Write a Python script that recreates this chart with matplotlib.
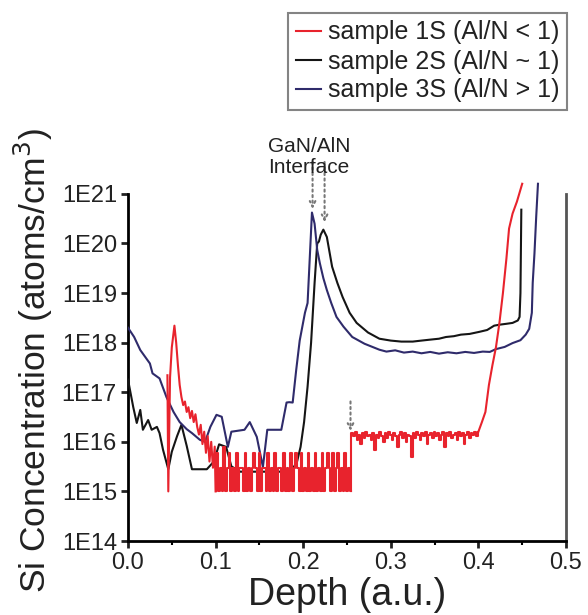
import numpy as np
import matplotlib
matplotlib.use("Agg")
import matplotlib.pyplot as plt
from matplotlib.ticker import FixedLocator, FuncFormatter, LogLocator, MultipleLocator

plt.rcParams['font.family'] = ['Liberation Sans', 'DejaVu Sans']

# sample 3S (Al/N > 1)
depth_3s = [0.000, 0.007, 0.014, 0.025, 0.028, 0.036, 0.044, 0.052, 0.059, 0.067,
            0.073, 0.082, 0.088, 0.094, 0.101, 0.107, 0.114, 0.118, 0.133, 0.139,
            0.147, 0.154, 0.159, 0.175, 0.181, 0.184, 0.188, 0.192, 0.196, 0.202,
            0.205, 0.210, 0.213, 0.216, 0.219, 0.223, 0.227, 0.232, 0.238, 0.246,
            0.256, 0.270, 0.287, 0.295, 0.305, 0.315, 0.325, 0.335, 0.345, 0.355,
            0.365, 0.375, 0.385, 0.395, 0.405, 0.413, 0.420, 0.430, 0.439, 0.448,
            0.454, 0.458, 0.461, 0.462, 0.464, 0.466, 0.468]
conc_3s = [2.0e18, 1.3e18, 7.1e17, 3.8e17, 2.4e17, 1.9e17, 7.9e16, 4.0e16, 2.5e16, 1.8e16,
           1.5e16, 1.1e16, 1.0e16, 2.0e16, 3.5e16, 3.2e16, 7.9e15, 1.6e16, 1.75e16, 2.5e16,
           1.26e16, 3.1e15, 1.75e16, 1.75e16, 6.2e16, 6.3e16, 6.2e16, 2.8e17, 1.1e18, 4.0e18,
           6.3e18, 4.2e20, 2.5e20, 7.4e19, 4.0e19, 2.0e19, 1.15e19, 6.3e18, 3.3e18, 2.1e18,
           1.3e18, 9.5e17, 7.2e17, 6.6e17, 7.0e17, 6.3e17, 6.6e17, 6.1e17, 6.5e17, 6.0e17,
           6.4e17, 6.1e17, 6.5e17, 6.2e17, 6.6e17, 6.5e17, 7.4e17, 8.2e17, 9.8e17, 1.12e18,
           1.45e18, 1.9e18, 4.0e18, 1.6e19, 6.3e19, 3.5e20, 1.6e21]

# sample 2S (Al/N ~ 1)
depth_2s = [0.000, 0.006, 0.010, 0.014, 0.017, 0.023, 0.027, 0.033, 0.036, 0.040,
            0.046, 0.050, 0.056, 0.061, 0.067, 0.073, 0.082, 0.090, 0.098, 0.104,
            0.112, 0.118, 0.128, 0.150, 0.170, 0.186, 0.193, 0.197, 0.201, 0.205,
            0.209, 0.213, 0.216, 0.218, 0.220, 0.223, 0.227, 0.233, 0.239, 0.245,
            0.253, 0.261, 0.274, 0.287, 0.300, 0.312, 0.325, 0.335, 0.345, 0.355,
            0.363, 0.372, 0.380, 0.390, 0.401, 0.410, 0.418, 0.424, 0.432, 0.439,
            0.445, 0.447, 0.448, 0.449]
conc_2s = [1.8e17, 5.0e16, 2.4e16, 4.4e16, 1.75e16, 2.75e16, 1.75e16, 2.0e16, 1.5e16, 6.9e15,
           2.8e15, 6.3e15, 1.3e16, 2.2e16, 8.3e15, 2.8e15, 2.8e15, 2.8e15, 4.0e15, 8.9e15,
           7.9e15, 3.2e15, 2.5e15, 2.5e15, 2.5e15, 2.5e15, 4.0e15, 7.9e15, 2.5e16, 1.3e17,
           1.0e18, 1.6e19, 1.0e20, 1.1e20, 1.5e20, 1.9e20, 1.35e20, 3.4e19, 1.6e19, 8.3e18,
           4.0e18, 2.5e18, 1.6e18, 1.2e18, 1.1e18, 1.05e18, 1.05e18, 1.1e18, 1.15e18, 1.2e18,
           1.3e18, 1.35e18, 1.45e18, 1.5e18, 1.65e18, 1.8e18, 2.2e18, 2.3e18, 2.4e18, 2.5e18,
           2.8e18, 3.3e18, 1.0e19, 4.8e20]

# sample 1S (Al/N < 1): peak near the surface
depth_1s_a = [0.045, 0.046, 0.048, 0.050, 0.053, 0.055, 0.057, 0.059, 0.061, 0.063,
              0.065, 0.067, 0.069, 0.071, 0.073, 0.075, 0.077, 0.079, 0.081, 0.083,
              0.085, 0.087, 0.089, 0.091, 0.093, 0.095, 0.097, 0.099, 0.100]
conc_1s_a = [2.2e17, 1.0e15, 2.0e17, 8.0e17, 2.2e18, 1.0e18, 3.5e17, 1.4e17, 8.0e16, 5.5e16,
             6.5e16, 4.0e16, 5.0e16, 3.0e16, 4.2e16, 2.5e16, 3.6e16, 2.0e16, 1.4e16, 2.2e16,
             9.0e15, 1.6e16, 6.0e15, 1.3e16, 4.0e15, 1.0e16, 3.0e15, 8.0e15, 1.0e15]

# sample 1S: noise floor in the GaN layer (one value per 0.002 depth step)
depth_1s_b = np.arange(0.100, 0.2545, 0.002)
conc_1s_b = [1e15, 6e15, 1e15, 3e15, 1e15, 8e15, 1e15, 3e15, 6e15, 1e15,
             3e15, 1e15, 6e15, 1e15, 3e15, 3e15, 1e15, 6e15, 1e15, 3e15,
             1e15, 3e15, 6e15, 3e15, 1e15, 6e15, 1e15, 3e15, 3e15, 1e15,
             6e15, 1e15, 3e15, 1e15, 6e15, 1e15, 3e15, 3e15, 1e15, 6e15,
             1e15, 3e15, 1e15, 6e15, 1e15, 3e15, 6e15, 3e15, 1e15, 6e15,
             1e15, 3e15, 1e15, 6e15, 1e15, 3e15, 1e15, 6e15, 1e15, 3e15,
             1e15, 6e15, 1e15, 3e15, 6e15, 3e15, 1e15, 6e15, 1e15, 3e15,
             6e15, 1e15, 3e15, 1e15, 6e15, 1e15, 3e15, 1e15]

# sample 1S: AlN layer
depth_1s_c = np.arange(0.254, 0.4005, 0.002)
conc_1s_c = [1e15, 1.5e16, 1.3e16, 1.6e16, 1.1e16, 1.4e16, 9e15, 1.5e16, 1.2e16, 1.6e16,
             1.3e16, 1.4e16, 1.1e16, 1.5e16, 7e15, 1.4e16, 1.2e16, 1.6e16, 1.3e16, 1.0e16,
             1.5e16, 1.2e16, 1.6e16, 1.4e16, 1.1e16, 1.5e16, 1.3e16, 8e15, 1.4e16, 1.6e16,
             1.2e16, 1.5e16, 1.0e16, 1.4e16, 1.3e16, 5e15, 1.5e16, 1.2e16, 1.6e16, 1.4e16,
             1.1e16, 1.5e16, 1.3e16, 1.6e16, 9e15, 1.4e16, 1.5e16, 1.2e16, 1.6e16, 1.3e16,
             1.5e16, 1.1e16, 1.4e16, 1.6e16, 8e15, 1.5e16, 1.3e16, 1.6e16, 1.2e16, 1.4e16,
             1.5e16, 1.1e16, 1.6e16, 1.3e16, 1.5e16, 9e15, 1.4e16, 1.6e16, 1.2e16, 1.5e16,
             1.4e16, 1.6e16, 1.3e16, 1.6e16]
# sample 1S: rise into the substrate
depth_1s_d = [0.400, 0.404, 0.408, 0.412, 0.416, 0.420, 0.424, 0.428, 0.432, 0.435,
              0.439, 0.444, 0.450]
conc_1s_d = [1.6e16, 2.5e16, 4.0e16, 1.4e17, 3.5e17, 8.0e17, 2.5e18, 1.0e19, 5.0e19, 2.0e20,
             4.0e20, 7.0e20, 1.6e21]

decades = [14, 15, 16, 17, 18, 19, 20, 21]
x_ticks = [0.0, 0.1, 0.2, 0.3, 0.4, 0.5]

red = '#e8232d'
black = '#151515'
navy = '#2f2b6b'
text_col = '#222222'

fig = plt.figure(figsize=(5.88, 6.15), dpi=100)
ax = fig.add_axes([128 / 588, 74 / 615, 438 / 588, 362 / 615])

ax.plot(depth_1s_a, conc_1s_a, color=red, lw=1.5, label='sample 1S (Al/N < 1)', zorder=4)
ax.plot(depth_1s_b, conc_1s_b, color=red, lw=1.5, drawstyle='steps-mid', zorder=4)
ax.plot(depth_1s_c, conc_1s_c, color=red, lw=1.5, drawstyle='steps-mid', zorder=4)
ax.plot(depth_1s_d, conc_1s_d, color=red, lw=1.5, zorder=4)
ax.plot(depth_2s, conc_2s, color=black, lw=1.5, label='sample 2S (Al/N ~ 1)', zorder=3)
ax.plot(depth_3s, conc_3s, color=navy, lw=1.5, label='sample 3S (Al/N > 1)', zorder=3)

ax.set_yscale('log')
ax.set_xlim(0, 0.5)
ax.set_ylim(1e14, 10 ** 21.3)

ax.spines['top'].set_visible(False)
ax.spines['left'].set_bounds(1e14, 1e21)
ax.spines['right'].set_bounds(1e14, 1e21)
ax.spines['left'].set_linewidth(2)
ax.spines['bottom'].set_linewidth(2)
ax.spines['right'].set_linewidth(2)
ax.spines['right'].set_color('#555555')

ax.yaxis.set_major_locator(FixedLocator([10.0 ** d for d in decades]))
ax.yaxis.set_major_formatter(FuncFormatter(lambda v, p: '1E%d' % round(np.log10(v))))
ax.yaxis.set_minor_locator(LogLocator(base=10, subs=np.arange(2, 10)))
ax.yaxis.set_minor_formatter(FuncFormatter(lambda v, p: ''))
ax.xaxis.set_major_locator(FixedLocator(x_ticks))
ax.xaxis.set_major_formatter(FuncFormatter(lambda v, p: '%.1f' % v))
ax.xaxis.set_minor_locator(MultipleLocator(0.05))

ax.tick_params(axis='both', which='major', direction='out', length=5, width=2,
               labelsize=17, colors=text_col, pad=3)
ax.tick_params(axis='y', which='minor', direction='in', length=3, width=1)
ax.tick_params(axis='x', which='minor', direction='out', length=3, width=1.5)

ax.set_xlabel('Depth (a.u.)', fontsize=27, color=text_col, labelpad=2)
ax.set_ylabel('Si Concentration (atoms/cm$^3$)', fontsize=25.5, color=text_col, labelpad=5)

# interface markers
arrow = dict(arrowstyle='->', linestyle=':', color='#777777', lw=1.5)
ax.annotate('', xy=(0.2107, 10 ** 20.64), xytext=(0.2107, 10 ** 21.7),
            arrowprops=arrow, annotation_clip=False)
ax.annotate('', xy=(0.2244, 10 ** 20.37), xytext=(0.2244, 10 ** 21.7),
            arrowprops=arrow, annotation_clip=False)
ax.annotate('', xy=(0.254, 10 ** 16.16), xytext=(0.254, 10 ** 16.87),
            arrowprops=arrow, annotation_clip=False)
fig.text(309 / 588, 1 - 177 / 615, 'GaN/AlN\nInterface', ha='center', va='bottom',
         fontsize=15, color=text_col, linespacing=1.15)

leg = fig.legend(loc='upper right', bbox_to_anchor=(567 / 588, 1 - 13 / 615),
                 fontsize=18, frameon=True, fancybox=False, handlelength=1.0,
                 handletextpad=0.3, labelspacing=0.2, borderpad=0.3, borderaxespad=0)
leg.get_frame().set_edgecolor('#666666')
leg.get_frame().set_linewidth(1.5)
for t in leg.get_texts():
    t.set_color(text_col)

fig.savefig('out.png', dpi=100)
